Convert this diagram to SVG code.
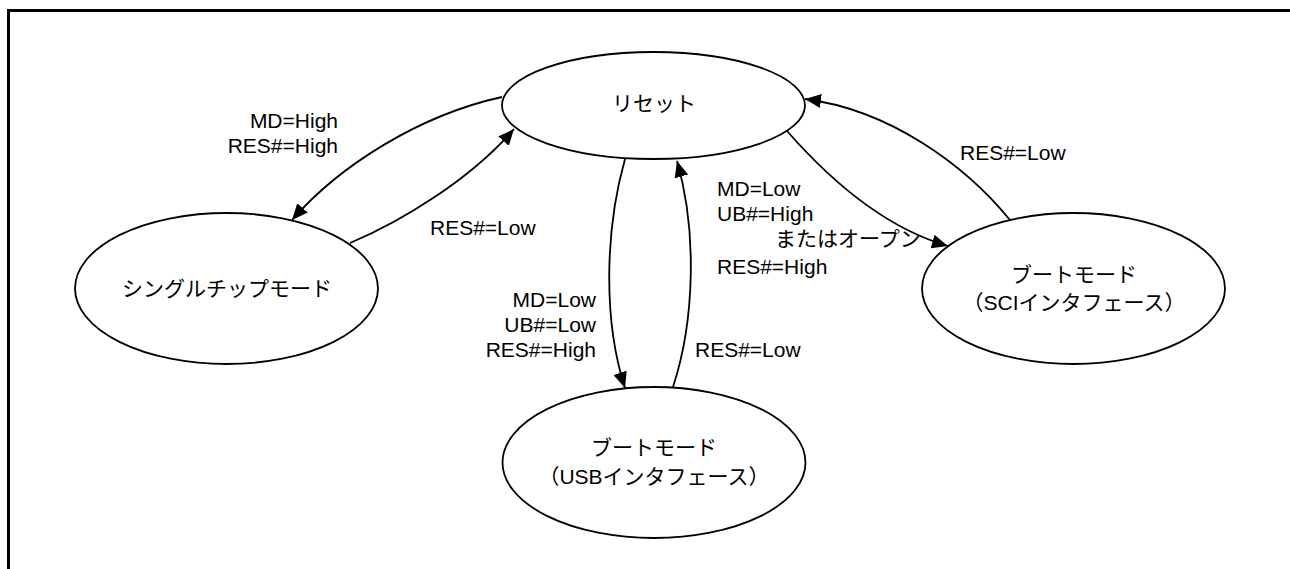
<svg xmlns="http://www.w3.org/2000/svg" width="1290" height="569" viewBox="0 0 1290 569">
<style>
.node{fill:#fff;stroke:#000;stroke-width:1.8}
.edge{fill:none;stroke:#000;stroke-width:1.8;marker-end:url(#arr)}
.jp{font-family:"Liberation Sans","Noto Sans CJK JP",sans-serif;font-size:21px;fill:#000;text-anchor:middle}
.lbl{font-family:"Liberation Sans","Noto Sans CJK JP",sans-serif;font-size:21px;fill:#000}
.end{text-anchor:end}
</style>
<defs>
<marker id="arr" markerUnits="userSpaceOnUse" markerWidth="17" markerHeight="15" refX="16" refY="7" orient="auto">
<path d="M0,0 L16,7 L0,14 z" fill="#000"/>
</marker>
</defs>
<rect width="1290" height="569" fill="#fff"/>
<g id="frame" fill="none" stroke="#000" stroke-width="3">
<path d="M8.5,569 L8.5,10.5 L1290,10.5"/>
</g>
<g id="connectors">
<path class="edge" d="M502,97 C420,115 340,165 292,220"/>
<path class="edge" d="M350,243 C400,222 470,180 514,129"/>
<path class="edge" d="M625,159 C605,230 603,320 625,388"/>
<path class="edge" d="M673,387 C695,320 697,230 677,161"/>
<path class="edge" d="M787,131 C830,180 885,228 948,246"/>
<path class="edge" d="M1010,220 C965,165 890,110 805,99"/>
</g>
<g id="node-reset">
<ellipse class="node" cx="653.5" cy="105.5" rx="151.5" ry="53.5"/>
<text class="jp" x="654" y="111">リセット</text>
</g>
<g id="node-single">
<ellipse class="node" cx="226.5" cy="288.5" rx="151.5" ry="75.5"/>
<text class="jp" x="227" y="296">シングルチップモード</text>
</g>
<g id="node-sci">
<ellipse class="node" cx="1073.5" cy="288.5" rx="151.5" ry="75.5"/>
<text class="jp" x="1074" y="282">ブートモード</text>
<text class="jp" x="1074" y="310">（SCIインタフェース）</text>
</g>
<g id="node-usb">
<ellipse class="node" cx="654" cy="462.5" rx="151.5" ry="75.5"/>
<text class="jp" x="654" y="455">ブートモード</text>
<text class="jp" x="654" y="484">（USBインタフェース）</text>
</g>
<g id="labels">
<text class="lbl end" x="338" y="128">MD=High</text>
<text class="lbl end" x="338" y="153">RES#=High</text>
<text class="lbl" x="430" y="235">RES#=Low</text>
<text class="lbl end" x="596" y="307">MD=Low</text>
<text class="lbl end" x="596" y="332">UB#=Low</text>
<text class="lbl end" x="596" y="357">RES#=High</text>
<text class="lbl" x="695" y="357">RES#=Low</text>
<text class="lbl" x="717" y="196">MD=Low</text>
<text class="lbl" x="717" y="221">UB#=High</text>
<text class="lbl" x="775" y="246">またはオープン</text>
<text class="lbl" x="717" y="274">RES#=High</text>
<text class="lbl" x="960" y="160">RES#=Low</text>
</g>
</svg>
